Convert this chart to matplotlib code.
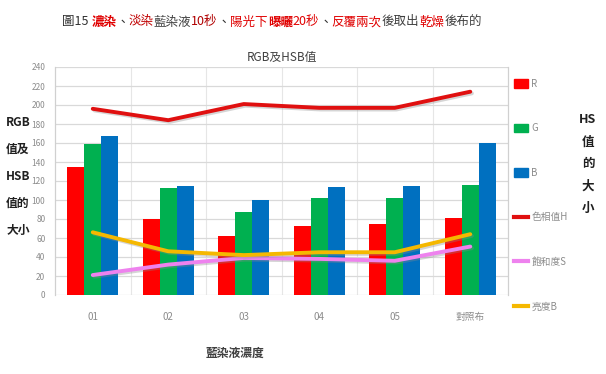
import matplotlib
matplotlib.use("Agg")
import matplotlib.pyplot as plt
import matplotlib.patheffects as pe
from matplotlib.patches import Patch
from matplotlib.lines import Line2D
import numpy as np

plt.rcParams['font.family'] = ['Noto Sans CJK TC', 'DejaVu Sans']

categories = ["01", "02", "03", "04", "05", "對照布"]
r_vals = [135, 80, 62, 73, 75, 81]
g_vals = [159, 113, 87, 102, 102, 116]
b_vals = [167, 115, 100, 114, 115, 160]
hue_vals = [196, 184, 201, 197, 197, 214]
sat_vals = [21, 32, 39, 38, 36, 51]
bri_vals = [66, 46, 42, 45, 45, 64]

bar_labels = ["R", "G", "B"]
line_labels = ["色相值H", "飽和度S", "亮度B"]
y_ticks = list(range(0, 241, 20))

bar_colors = ["#ff0000", "#00b050", "#0070c0"]
line_colors = ["#e01010", "#ee82ee", "#f5b800"]

fig = plt.figure(figsize=(6.06, 3.74), dpi=100)
ax = fig.add_axes([55 / 606, 1 - 295 / 374, 453 / 606, 228 / 374])

x = np.arange(len(categories))
w = 0.225
for i, (vals, col, lab) in enumerate(zip([r_vals, g_vals, b_vals], bar_colors, bar_labels)):
    ax.bar(x + (i - 1) * w, vals, width=w, color=col, label=lab, zorder=3)

shadow = [pe.SimpleLineShadow(offset=(1.2, -1.2), shadow_color="#888888", alpha=0.35),
          pe.Normal()]
for vals, col, lab in zip([hue_vals, sat_vals, bri_vals], line_colors, line_labels):
    ax.plot(x, vals, color=col, lw=2.8, label=lab, zorder=4,
            solid_capstyle="round", path_effects=shadow)

ax.set_xlim(-0.5, len(categories) - 0.5)
ax.set_ylim(0, 240)
ax.set_yticks(y_ticks)
ax.set_yticklabels([str(t) for t in y_ticks], fontsize=6, color="#8c8c8c")
ax.set_xticks(x)
ax.set_xticklabels(categories, fontsize=7, color="#8c8c8c")
ax.tick_params(length=0, pad=7)
ax.tick_params(axis="x", pad=12)
ax.grid(axis="y", color="#d9d9d9", lw=0.9, zorder=0)
for b in np.arange(0.5, len(categories) - 0.5, 1.0):
    ax.axvline(b, color="#e6e6e6", lw=0.8, zorder=0)
for s in ["top", "bottom"]:
    ax.spines[s].set_visible(False)
for s in ["left", "right"]:
    ax.spines[s].set_color("#d0d0d0")
    ax.spines[s].set_linewidth(0.9)

# subtitle inside the chart area
fig.text(282 / 606, 1 - 57 / 374, "RGB及HSB值", ha="center", va="center",
         fontsize=8.5, color="#404040")

# multi-coloured title
title_parts = [
    ("圖15 ", "#303030", "normal"),
    ("濃染", "#e00000", "bold"),
    ("、", "#303030", "normal"),
    ("淡染", "#c00000", "normal"),
    ("藍染液", "#404040", "normal"),
    ("10秒", "#b00000", "normal"),
    ("、", "#303030", "normal"),
    ("陽光下", "#e00000", "normal"),
    ("曝曬", "#e00000", "bold"),
    ("20秒", "#e00000", "normal"),
    ("、", "#303030", "normal"),
    ("反覆兩次", "#e00000", "normal"),
    ("後取出", "#404040", "normal"),
    ("乾燥", "#e00000", "normal"),
    ("後布的", "#404040", "normal"),
]
renderer = fig.canvas.get_renderer()
xpos = 62
for txt, col, wt in title_parts:
    t = fig.text(xpos / 606, 1 - 22 / 374, txt, ha="left", va="center",
                 fontsize=9, color=col, fontweight=wt)
    bb = t.get_window_extent(renderer=renderer)
    xpos += bb.width

# axis titles
left_label = ["RGB", "值及", "HSB", "值的", "大小"]
for i, s in enumerate(left_label):
    fig.text(18 / 606, 1 - (122 + i * 27) / 374, s, ha="center", va="center",
             fontsize=8.5, fontweight="bold", color="#202020")
right_label = ["HS", "值", "的", "大", "小"]
for i, s in enumerate(right_label):
    fig.text(588 / 606, 1 - (120 + i * 22) / 374, s, ha="center", va="center",
             fontsize=9, fontweight="bold", color="#202020")
fig.text(235 / 606, 1 - 353 / 374, "藍染液濃度", ha="center", va="center",
         fontsize=8.5, fontweight="bold", color="#404040")

handles = [Patch(color=c) for c in bar_colors] + \
          [Line2D([0], [0], color=c, lw=3) for c in line_colors]
labels = bar_labels + line_labels
fig.legend(handles, labels, loc="upper left", bbox_to_anchor=(509 / 606, 1 - 74 / 374),
           frameon=False, fontsize=7, labelcolor="#8c8c8c", handlelength=1.5,
           handleheight=1.0, handletextpad=0.3, labelspacing=3.55, borderpad=0)

fig.savefig("out.png", dpi=100, facecolor="white")
